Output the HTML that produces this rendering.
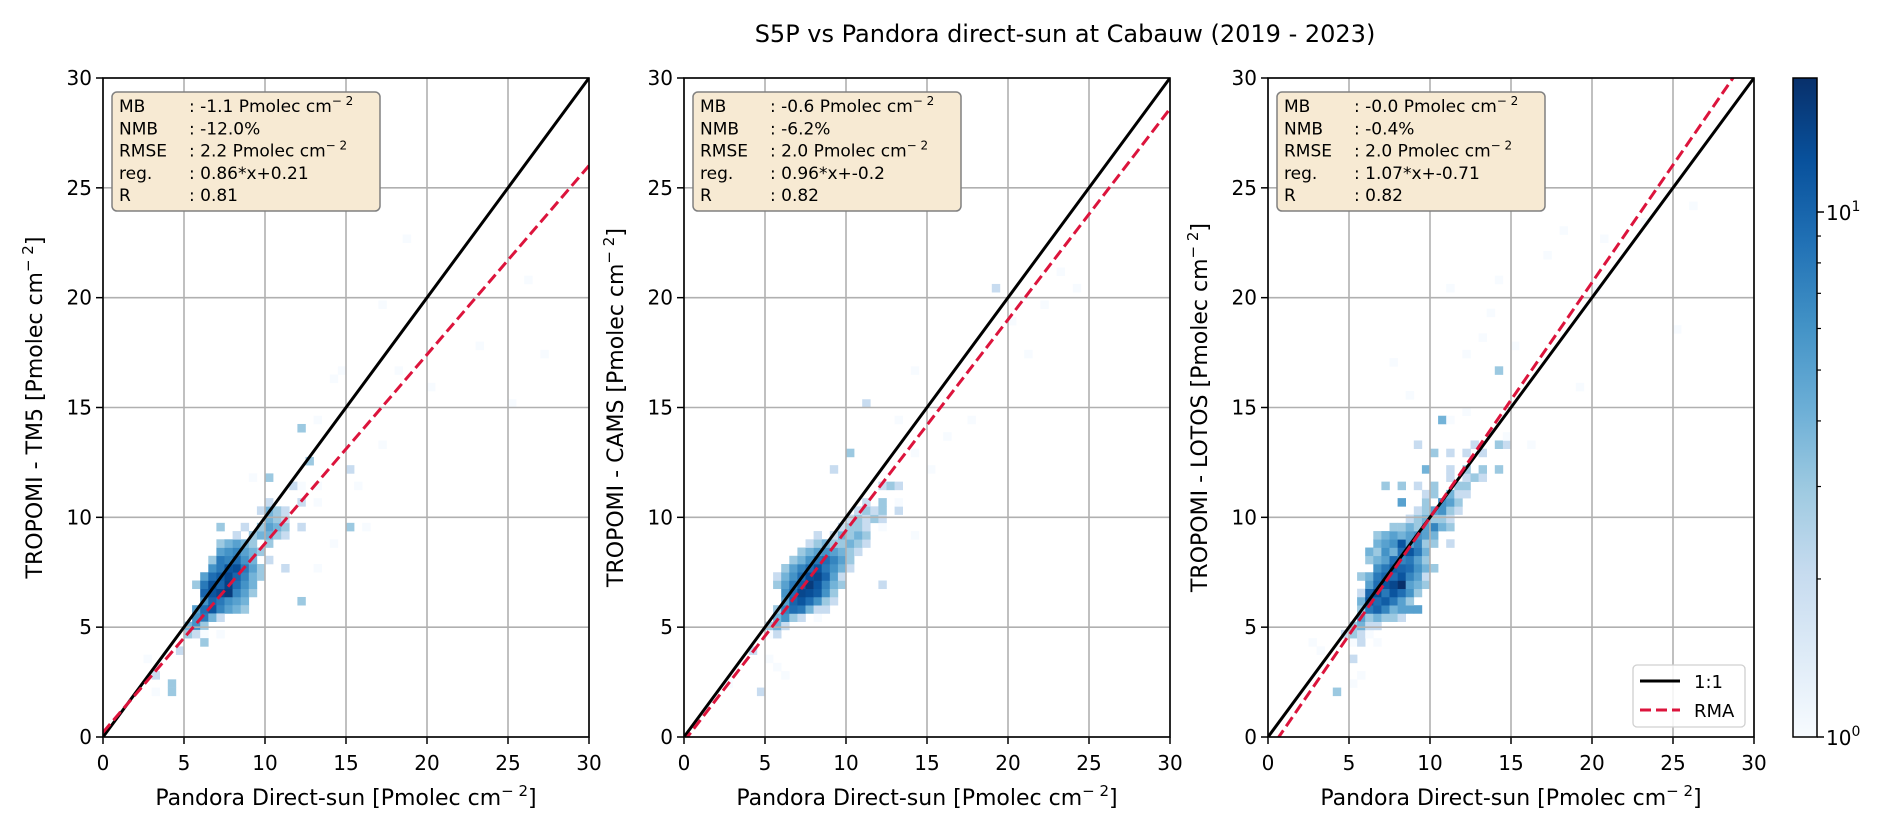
<!DOCTYPE html>
<html><head><meta charset="utf-8"><style>
body{margin:0;background:#fff}
svg{display:block;font-family:"DejaVu Sans","Liberation Sans",sans-serif}
</style></head><body>
<svg id="fig" width="1892" height="830" viewBox="0 0 1892 830" xmlns="http://www.w3.org/2000/svg">
<defs>
<linearGradient id="blues" x1="0" y1="1" x2="0" y2="0">
<stop offset="0" stop-color="#f7fbff"/><stop offset="0.125" stop-color="#deebf7"/><stop offset="0.25" stop-color="#c6dbef"/><stop offset="0.375" stop-color="#9ecae1"/><stop offset="0.5" stop-color="#6baed6"/><stop offset="0.625" stop-color="#4292c6"/><stop offset="0.75" stop-color="#2171b5"/><stop offset="0.875" stop-color="#08519c"/><stop offset="1" stop-color="#08306b"/>
</linearGradient>
</defs>
<text x="1065" y="42" font-size="24" text-anchor="middle">S5P vs Pandora direct-sun at Cabauw (2019 - 2023)</text>
<g id="panels"></g>
<g>
<rect x="1793" y="78" width="24" height="659" fill="url(#blues)" stroke="#000" stroke-width="1.5"/>
<g id="cbticks"></g>
<text x="1826" y="220" font-size="20">10<tspan font-size="14" dy="-9">1</tspan></text>
<text x="1826" y="745" font-size="20">10<tspan font-size="14" dy="-9">0</tspan></text>
</g>
</svg>
<script>
const xTicks = [0, 5, 10, 15, 20, 25, 30];
const yTicks = [0, 5, 10, 15, 20, 25, 30];
const panelLefts = [103, 684, 1268];
const yLabels = ["TROPOMI - TM5", "TROPOMI - CAMS", "TROPOMI - LOTOS"];
const slopes = [0.86, 0.96, 1.07];
const intercepts = [0.21, -0.2, -0.71];
const statsMB = ["-1.1", "-0.6", "-0.0"];
const statsNMB = ["-12.0", "-6.2", "-0.4"];
const statsRMSE = ["2.2", "2.0", "2.0"];
const statsReg = ["0.86*x+0.21", "0.96*x+-0.2", "1.07*x+-0.71"];
const statsR = ["0.81", "0.82", "0.82"];
const countMax = 18;
const binW = 0.5, binH = 0.375;

const panel1Cells = [
[6,6,6],[6.5,6,10],[7,6,8],[7.5,6,6],[8,6,5],[8.5,6,4],
[5.5,5.625,5],[6,5.625,9],[6.5,5.625,12],[7,5.625,7],[7.5,5.625,5],[8,5.625,4],[8.5,5.625,3],
[5.5,5.25,6],[6,5.25,8],[6.5,5.25,4],[7,5.25,2],
[5,4.875,4],[5.5,4.875,6],[6,4.875,3],[5,4.5,3],[5.5,4.5,2],[6,4.5,1],
[6,6.375,10],[6.5,6.375,12],[7,6.375,14],[7.5,6.375,16],[8,6.375,7],[8.5,6.375,5],[9,6.375,3],
[5.5,6.75,3],[6,6.75,8],[6.5,6.75,13],[7,6.75,10],[7.5,6.75,15],[8,6.75,9],[8.5,6.75,6],[9,6.75,4],
[6,7.125,5],[6.5,7.125,9],[7,7.125,11],[7.5,7.125,14],[8,7.125,10],[8.5,7.125,7],[9,7.125,4],[9.5,7.125,3],
[6.5,7.5,6],[7,7.5,8],[7.5,7.5,12],[8,7.5,13],[8.5,7.5,8],[9,7.5,5],[9.5,7.5,3],
[6.5,7.875,3],[7,7.875,8],[7.5,7.875,7],[8,7.875,9],[8.5,7.875,6],[9,7.875,4],[10,7.875,2],
[7,8.25,5],[7.5,8.25,6],[8,8.25,7],[8.5,8.25,5],[9,8.25,4],[9.5,8.25,3],
[7,8.625,3],[7.5,8.625,4],[8,8.625,5],[8.5,8.625,4],[9,8.625,3],[10,8.625,3],
[8,9,2],[9,9,3],[9.5,9,4],[10,9,4],[10.5,9,3],[11,9,2],
[7,9.375,3],[8.5,9.375,2],[9.5,9.375,3],[10,9.375,5],[10.5,9.375,4],[11,9.375,3],[12,9.375,2],
[10,9.75,4],[10.5,9.75,3],[11,9.75,2],[9.5,10.125,2],[10,10.125,4],[10.5,10.125,3],[11,10.125,2],
[10,10.5,2],[12,10.5,2],[13,10.5,1],[11.5,11.25,2],[12,11.25,1],[13,11.25,1],[10,11.625,3],[9,11.625,1],
[12.5,12.375,3],[15,12,2],[12,13.875,3],[13,14.25,1],
[3,2.625,2],[4,2.25,3],[3,1.875,1],[4,1.875,3],[2.5,3.375,1],[6,4.125,3],[7,4.5,1],[4.5,3.75,2],
[12,6,3],[11,7.5,2],[13,7.5,1],[14,8.625,1],[16,9.375,1],[15,9.375,3],[17,13.125,1],[18,16.5,1],
[20,15.75,1],[25,15,1],[17,19.5,1],[23,17.625,1],[26,20.625,1],[18.5,22.5,1],[27,17.25,1],[14.5,16.5,1],[14,16.125,1],[15.5,11.25,1]
];
const panel2Cells = [
[5,4.5,1],[5.5,4.5,2],[5,4.875,3],[5.5,4.875,4],[6,4.875,2],
[5.5,5.25,4],[6,5.25,6],[6.5,5.25,3],[7,5.25,2],[8,5.25,1],
[5.5,5.625,3],[6,5.625,7],[6.5,5.625,9],[7,5.625,8],[7.5,5.625,4],[8,5.625,2],[8.5,5.625,2],
[6,6,5],[6.5,6,10],[7,6,12],[7.5,6,9],[8,6,6],[8.5,6,3],[9,6,2],
[6,6.375,6],[6.5,6.375,9],[7,6.375,14],[7.5,6.375,13],[8,6.375,11],[8.5,6.375,6],[9,6.375,3],
[5.5,6.75,3],[6,6.75,5],[6.5,6.75,8],[7,6.75,11],[7.5,6.75,16],[8,6.75,12],[8.5,6.75,7],[9,6.75,4],[9.5,6.75,3],
[5.5,7.125,2],[6,7.125,4],[6.5,7.125,6],[7,7.125,9],[7.5,7.125,13],[8,7.125,14],[8.5,7.125,10],[9,7.125,5],[9.5,7.125,2],
[6,7.5,3],[6.5,7.5,5],[7,7.5,7],[7.5,7.5,9],[8,7.5,12],[8.5,7.5,8],[9,7.5,6],[9.5,7.5,4],[10,7.5,2],
[6.5,7.875,3],[7,7.875,4],[7.5,7.875,6],[8,7.875,8],[8.5,7.875,9],[9,7.875,7],[9.5,7.875,5],[10,7.875,3],
[7,8.25,3],[7.5,8.25,4],[8,8.25,5],[8.5,8.25,6],[9,8.25,5],[9.5,8.25,4],[10,8.25,3],[10.5,8.25,2],
[7.5,8.625,2],[8,8.625,3],[8.5,8.625,4],[9,8.625,3],[9.5,8.625,3],[10,8.625,4],[10.5,8.625,3],[11,8.625,2],
[8,9,2],[9,9,2],[9.5,9,4],[10,9,3],[10.5,9,4],[11,9,3],
[9.5,9.375,2],[10,9.375,3],[10.5,9.375,3],[11,9.375,2],[12,9.375,1],
[10,9.75,2],[10.5,9.75,3],[11,9.75,2],[11.5,9.75,3],[12,9.75,2],
[10.5,10.125,2],[11,10.125,3],[11.5,10.125,2],[12,10.125,3],[13,10.125,2],
[11,10.5,2],[12,10.5,3],[13,10.5,1],[12,11.25,2],[12.5,11.25,3],[13,11.25,2],[9,12,2],[15,12,1],[10,12.75,3],[14,12.75,1],
[4,3.75,2],[5,3.375,1],[5.5,3,1],[2.5,2.25,1],[4.5,1.875,2],[6,2.625,1],[13,14.25,1],[11,15,2],[14,16.5,1],
[20,18.75,1],[22,19.5,1],[19,20.25,2],[21,17.25,1],[16,13.5,1],[17.5,14.25,1],[23,21,1],[24,20.25,1],[12,6.75,2],[14,9,1]
];
const panel3Cells = [
[5,4.125,1],[5.5,4.125,2],[6.5,4.125,1],[4.5,4.5,2],[5,4.5,3],[5.5,4.5,2],[6,4.5,1],
[5,4.875,3],[5.5,4.875,4],[6,4.875,2],[6.5,4.875,2],
[5.5,5.25,5],[6,5.25,3],[6.5,5.25,4],[7,5.25,3],[7.5,5.25,3],[8,5.25,2],
[5.5,5.625,3],[6,5.625,8],[6.5,5.625,10],[7,5.625,7],[7.5,5.625,4],[8,5.625,5],[8.5,5.625,5],[9,5.625,5],
[5.5,6,4],[6,6,12],[6.5,6,9],[7,6,11],[7.5,6,8],[8,6,5],[8.5,6,3],
[5.5,6.375,2],[6,6.375,10],[6.5,6.375,13],[7,6.375,8],[7.5,6.375,12],[8,6.375,9],[8.5,6.375,6],[9,6.375,3],
[6,6.75,5],[6.5,6.75,9],[7,6.75,12],[7.5,6.75,14],[8,6.75,18],[8.5,6.75,5],[9,6.75,4],[9.5,6.75,3],
[5.5,7.125,3],[6,7.125,4],[6.5,7.125,8],[7,7.125,10],[7.5,7.125,9],[8,7.125,12],[8.5,7.125,7],[9,7.125,5],[9.5,7.125,2],
[6.5,7.5,6],[7,7.5,8],[7.5,7.5,11],[8,7.5,10],[8.5,7.5,9],[9,7.5,6],[9.5,7.5,4],[10,7.5,3],
[6,7.875,3],[6.5,7.875,4],[7,7.875,5],[7.5,7.875,9],[8,7.875,7],[8.5,7.875,8],[9,7.875,5],[9.5,7.875,3],
[6,8.25,4],[6.5,8.25,3],[7,8.25,6],[7.5,8.25,4],[8,8.25,9],[8.5,8.25,12],[9,8.25,8],[9.5,8.25,4],
[6.5,8.625,4],[7,8.625,5],[7.5,8.625,6],[8,8.625,12],[8.5,8.625,5],[9,8.625,7],[9.5,8.625,3],[10,8.625,3],[11,8.625,2],
[6.5,9,3],[7,9,4],[7.5,9,5],[8,9,4],[8.5,9,5],[9,9,6],[9.5,9,5],[10,9,4],
[7.5,9.375,3],[8,9.375,3],[8.5,9.375,4],[9,9.375,3],[9.5,9.375,5],[10,9.375,7],[10.5,9.375,4],[11,9.375,3],
[8.5,9.75,2],[9,9.75,3],[9.5,9.75,4],[10,9.75,3],[10.5,9.75,3],[11,9.75,2],
[9,10.125,2],[9.5,10.125,3],[10,10.125,5],[10.5,10.125,6],[11,10.125,3],[11.5,10.125,2],
[8,10.5,5],[9.5,10.5,3],[10.5,10.5,6],[11,10.5,5],[11.5,10.5,3],
[9.5,10.875,2],[10,10.875,3],[11,10.875,4],[11.5,10.875,2],[12,10.875,2],
[7,11.25,3],[8,11.25,3],[9,11.25,2],[10,11.25,3],[11.5,11.25,3],[12,11.25,3],
[11,11.625,2],[12,11.625,2],[12.5,11.625,3],[13,11.625,2],
[9.5,12,4],[11,12,2],[12,12,3],[13,12,3],[14,12,3],[10,12.75,3],[11,12.75,2],[12,12.75,2],[13,12.75,2],
[9,13.125,2],[12.5,13.125,2],[14,13.125,3],[14.5,13.125,2],[10.5,14.25,4],[11,14.25,1],
[4,1.875,3],[5,2.25,1],[3,3.75,1],[2.5,4.125,1],[5,3.375,2],[5.5,2.625,1],[14,16.5,3],[13,18,1],[12,17.25,1],
[15,17.625,1],[13.5,19.125,1],[14,20.625,1],[17,21.75,1],[18,22.875,1],[20.5,22.5,1],[23,23.25,1],[26,24,1],
[25,18.375,1],[20,20.25,1],[19,15.75,1],[8.5,15.375,1],[7.5,16.875,1],[11,20.25,1],[12,14.625,1],[14.5,13.5,1],[16,13.125,1]
];
const allCells = [panel1Cells, panel2Cells, panel3Cells];

const NS = "http://www.w3.org/2000/svg";
const TOP = 78, BOTTOM = 737, PW = 486;
const stops = ["#f7fbff","#deebf7","#c6dbef","#9ecae1","#6baed6","#4292c6","#2171b5","#08519c","#08306b"];
function hex(c){return [1,3,5].map(i=>parseInt(c.substr(i,2),16));}
function blues(t){t=Math.max(0,Math.min(1,t));const p=t*8,i=Math.min(7,Math.floor(p)),f=p-i;const a=hex(stops[i]),b=hex(stops[i+1]);return "rgb("+a.map((v,k)=>Math.round(v+(b[k]-v)*f)).join(",")+")";}
function mk(tag, attrs, parent){const e=document.createElementNS(NS,tag);for(const k in attrs)e.setAttribute(k,attrs[k]);parent.appendChild(e);return e;}
function unitText(parent, x, y, anchor, prefix, transform){
  const t = mk("text",{x:x,y:y,"font-size":22,"text-anchor":anchor},parent);
  if(transform) t.setAttribute("transform",transform);
  t.appendChild(document.createTextNode(prefix+" [Pmolec cm"));
  const s = mk("tspan",{dy:-9,"font-size":15},t); s.textContent="\u2212 2";
  const s2 = mk("tspan",{dy:9},t); s2.textContent="]";
  return t;
}
const panelsG = document.getElementById("panels");
panelLefts.forEach((L, pi) => {
  const sx = v => L + v / 30 * PW;
  const sy = v => BOTTOM - v / 30 * (BOTTOM - TOP);
  const g = mk("g",{},panelsG);
  
  
  const clipId = "clip"+pi;
  const cp = mk("clipPath",{id:clipId},g);
  mk("rect",{x:L,y:TOP,width:PW,height:BOTTOM-TOP},cp);
  // heatmap
  const hm = mk("g",{"clip-path":"url(#"+clipId+")"},g);
  
  
  allCells[pi].forEach(c => {
    const r = mk("rect",{x:sx(c[0]),y:sy(c[1]+binH),width:sx(c[0]+binW)-sx(c[0])+0.3,height:sy(c[1])-sy(c[1]+binH)+0.3,fill:blues(Math.log(c[2])/Math.log(countMax))},hm);
    
    
  });
  // grid
  xTicks.forEach(v => {
    const l = mk("line",{x1:sx(v),x2:sx(v),y1:TOP,y2:BOTTOM,stroke:"#b0b0b0","stroke-width":1.6},g);
    
    
    const tk = mk("line",{x1:sx(v),x2:sx(v),y1:BOTTOM,y2:BOTTOM+7,stroke:"#000","stroke-width":1.5},g);
    
    
    const tl = mk("text",{x:sx(v),y:770,"font-size":20,"text-anchor":"middle"},g);
    tl.textContent = v;
    
    
  });
  yTicks.forEach(v => {
    const l = mk("line",{x1:L,x2:L+PW,y1:sy(v),y2:sy(v),stroke:"#b0b0b0","stroke-width":1.6},g);
    
    
    const tk = mk("line",{x1:L-7,x2:L,y1:sy(v),y2:sy(v),stroke:"#000","stroke-width":1.5},g);
    
    
    const tl = mk("text",{x:L-11,y:sy(v)+7,"font-size":20,"text-anchor":"end"},g);
    tl.textContent = v;
    
    
  });
  // lines
  const lg = mk("g",{"clip-path":"url(#"+clipId+")"},g);
  const one = mk("line",{x1:sx(0),y1:sy(0),x2:sx(30),y2:sy(30),stroke:"#000","stroke-width":3},lg);
  
  
  const rma = mk("line",{x1:sx(0),y1:sy(intercepts[pi]),x2:sx(30),y2:sy(slopes[pi]*30+intercepts[pi]),stroke:"#dc143c","stroke-width":3,"stroke-dasharray":"11,5"},lg);
  
  
  // frame
  const fr = mk("rect",{x:L,y:TOP,width:PW,height:BOTTOM-TOP,fill:"none",stroke:"#000","stroke-width":1.6},g);
  
  
  // stats box
  const sb = mk("g",{},g);
  
  
  mk("rect",{x:L+9,y:92,width:268,height:119,rx:5,fill:"#f7ead3",stroke:"#808080","stroke-width":1.5},sb);
  const rows = [["MB",": "+statsMB[pi]+" Pmolec cm",true],["NMB",": "+statsNMB[pi]+"%",false],["RMSE",": "+statsRMSE[pi]+" Pmolec cm",true],["reg.",": "+statsReg[pi],false],["R",": "+statsR[pi],false]];
  rows.forEach((r,i) => {
    const y = 112 + i*22.3;
    const a = mk("text",{x:L+16,y:y,"font-size":17},sb); a.textContent=r[0];
    const b = mk("text",{x:L+86,y:y,"font-size":17},sb); b.textContent=r[1];
    if(r[2]){const s=mk("tspan",{dy:-7,"font-size":12},b); s.textContent="\u2212 2";}
  });
  // axis labels
  const xl = unitText(g, L+PW/2, 805, "middle", "Pandora Direct-sun");
  
  
  const cx = L-69, cy = (TOP+BOTTOM)/2;
  const yl = unitText(g, cx, cy+8, "middle", yLabels[pi], "rotate(-90 "+cx+" "+cy+")");
  
  
});
// legend on panel 3
(function(){
  const g = mk("g",{},panelsG);
  
  
  mk("rect",{x:1633,y:665,width:112,height:62,rx:4,fill:"#fff","fill-opacity":0.85,stroke:"#d0d0d0","stroke-width":1.3},g);
  const l1 = mk("line",{x1:1640,x2:1680,y1:681,y2:681,stroke:"#000","stroke-width":3},g);
  
  
  const t1 = mk("text",{x:1694,y:688,"font-size":18},g); t1.textContent="1:1";
  const l2 = mk("line",{x1:1640,x2:1680,y1:710,y2:710,stroke:"#dc143c","stroke-width":3,"stroke-dasharray":"11,5"},g);
  
  
  const t2 = mk("text",{x:1694,y:717,"font-size":18},g); t2.textContent="RMA";
})();
// colorbar ticks
(function(){
  const g = document.getElementById("cbticks");
  const cy = v => 737 - Math.log(v)/Math.log(countMax)*659;
  [1,2,3,4,5,6,7,8,9,10].forEach(v => {
    const major = (v===1||v===10);
    const t = mk("line",{x1:1817,x2:1817+(major?7:4),y1:cy(v),y2:cy(v),stroke:"#000","stroke-width":major?1.5:1.2},g);
    
    
  });
})();
</script>
</body></html>
